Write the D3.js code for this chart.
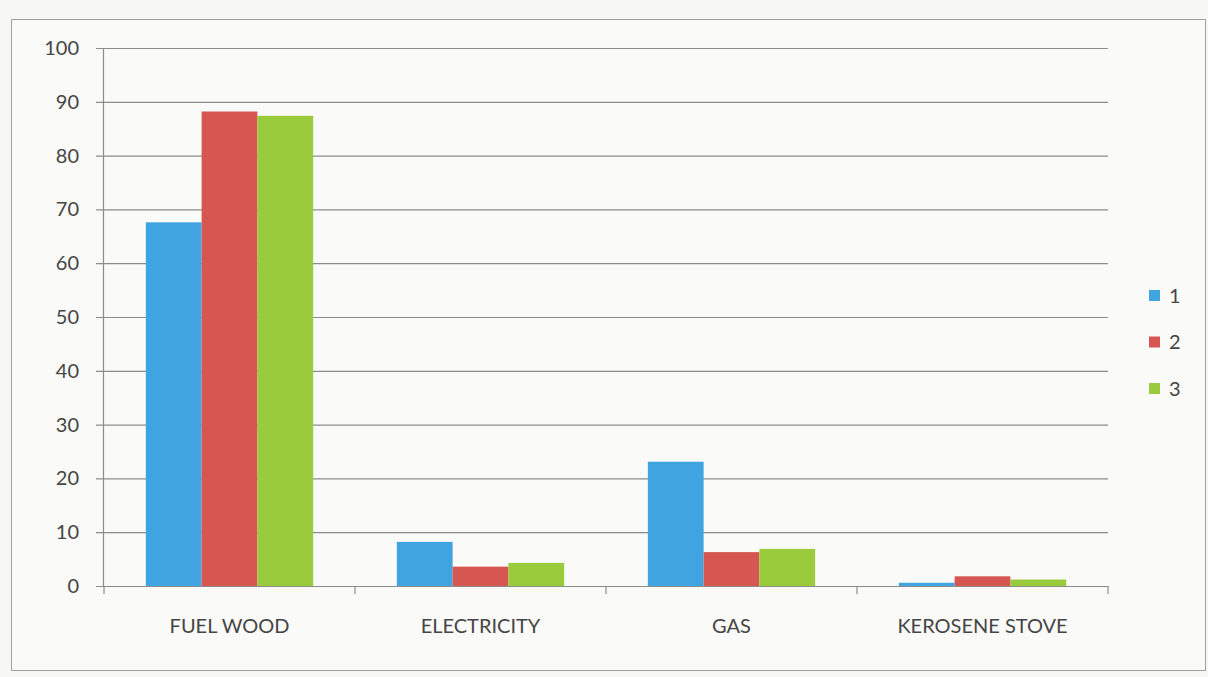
<!DOCTYPE html>
<html>
<head>
<meta charset="utf-8">
<script src="https://cdn.jsdelivr.net/npm/d3@7"></script>
<style>
  html, body { margin: 0; padding: 0; background: #f7f7f5; }
  svg { display: block; }
  text { font-family: Lato, "Open Sans", sans-serif; fill: #454545; }
</style>
</head>
<body>
<svg id="chart" width="1208" height="677"></svg>
<script>
// Cooking fuel shares (%) for three groups
const categories = ["FUEL WOOD", "ELECTRICITY", "GAS", "KEROSENE STOVE"];
const seriesNames = ["1", "2", "3"];
const series1 = [67.6, 8.2, 23.1, 0.6];
const series2 = [88.2, 3.6, 6.3, 1.8];
const series3 = [87.4, 4.3, 6.9, 1.2];
const yTicks = [0, 10, 20, 30, 40, 50, 60, 70, 80, 90, 100];
const colors = ["#3fa4df", "#d65752", "#9acb3c"];

const allSeries = [series1, series2, series3];
const svg = d3.select("#chart");
const fontStack = "Lato, 'Open Sans', sans-serif";

// outer frame
svg.append("rect")
  .attr("x", 11.5).attr("y", 19.5)
  .attr("width", 1194).attr("height", 651)
  .attr("fill", "#fafaf8").attr("stroke", "#a0a0a0").attr("stroke-width", 1);

const plotLeft = 104, plotRight = 1108, plotTop = 48, plotBottom = 586;

const x = d3.scaleBand().domain(categories).range([plotLeft, plotRight]).paddingInner(0).paddingOuter(0);
const xs = d3.scaleBand().domain(seriesNames).range([0, x.bandwidth()]).paddingOuter(0.75).paddingInner(0);
const y = d3.scaleLinear().domain([0, 100]).range([plotBottom, plotTop]);

// horizontal gridlines with left tick stubs
const yAxis = d3.axisLeft(y).tickValues(yTicks).tickSize(-(plotRight - plotLeft)).tickPadding(25);
const gy = svg.append("g").attr("transform", `translate(${plotLeft},0)`).call(yAxis);
gy.select(".domain").remove();
gy.selectAll(".tick line").attr("stroke", "#8c8c8c").attr("stroke-width", 1.2).attr("x1", -8);
gy.selectAll(".tick text").attr("font-size", 20).attr("fill", "#454545")
  .style("font-family", fontStack);

// vertical axis line
svg.append("line")
  .attr("x1", plotLeft - 0.5).attr("x2", plotLeft - 0.5)
  .attr("y1", plotTop).attr("y2", plotBottom)
  .attr("stroke", "#8c8c8c").attr("stroke-width", 1.2);

// bars
const groups = svg.append("g").selectAll("g")
  .data(categories).join("g")
  .attr("transform", d => `translate(${x(d)},0)`);

groups.selectAll("rect")
  .data((d, i) => seriesNames.map((s, k) => ({ s, v: allSeries[k][i], k })))
  .join("rect")
  .attr("x", d => xs(d.s))
  .attr("width", xs.bandwidth())
  .attr("y", d => y(d.v))
  .attr("height", d => y(0) - y(d.v))
  .attr("fill", d => colors[d.k]);

// category axis
const xAxis = d3.axisBottom(x).tickSize(0).tickPadding(33);
const gx = svg.append("g").attr("transform", `translate(0,${plotBottom})`).call(xAxis);
gx.select(".domain").attr("stroke", "#8c8c8c").attr("stroke-width", 1.2);
gx.selectAll(".tick text").attr("font-size", 20).attr("fill", "#454545")
  .style("font-family", fontStack);

// boundary ticks between categories
const bounds = categories.map(c => x(c)).concat([plotRight]);
svg.append("g").selectAll("line").data(bounds).join("line")
  .attr("x1", d => d).attr("x2", d => d)
  .attr("y1", plotBottom).attr("y2", plotBottom + 8)
  .attr("stroke", "#8c8c8c").attr("stroke-width", 1.2);

// legend
const legend = svg.append("g").selectAll("g").data(seriesNames).join("g")
  .attr("transform", (d, i) => `translate(1149,${290 + i * 46.5})`);
legend.append("rect").attr("width", 11).attr("height", 11).attr("fill", (d, i) => colors[i]);
legend.append("text").attr("x", 20).attr("y", 5.5).attr("dy", "0.35em")
  .attr("font-size", 20).text(d => d);
</script>
</body>
</html>
